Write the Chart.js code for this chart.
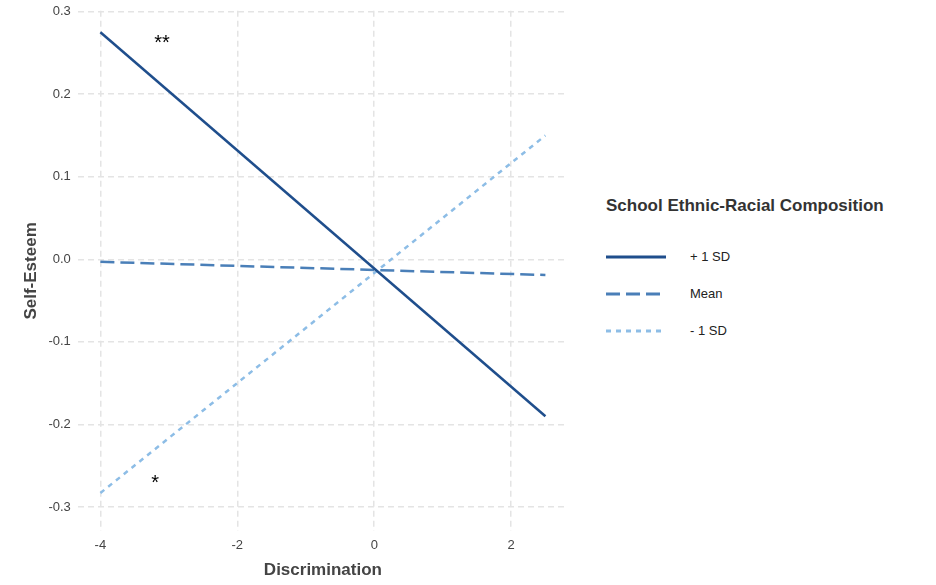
<!DOCTYPE html>
<html>
<head>
<meta charset="utf-8">
<script src="https://cdn.jsdelivr.net/npm/chart.js@4"></script>
<style>
  body { margin: 0; background: #fff; font-family: "Liberation Sans", Arial, sans-serif; }
  #wrap { position: relative; width: 936px; height: 585px; }
  #chartBox { position: absolute; left: 0; top: 0; width: 568px; height: 585px; }
  #legend { position: absolute; left: 606px; top: 196px; color: #222; }
  #legend h3 { margin: 0 0 22px 0; font-size: 17px; font-weight: bold; color: #333; }
  .item { display: flex; align-items: center; height: 37px; font-size: 13px; }
  .item svg { margin-right: 24px; }
</style>
</head>
<body>
<div id="wrap">
  <div id="chartBox"><canvas id="c"></canvas></div>
  <div id="legend">
    <h3>School Ethnic-Racial Composition</h3>
    <div class="item"><svg width="60" height="6"><line x1="0" y1="3" x2="60" y2="3" stroke="#1f4e8c" stroke-width="3"/></svg>+ 1 SD</div>
    <div class="item"><svg width="60" height="6"><line x1="0" y1="3" x2="60" y2="3" stroke="#4a7fb8" stroke-width="3" stroke-dasharray="14,6"/></svg>Mean</div>
    <div class="item"><svg width="60" height="6"><line x1="0" y1="3" x2="60" y2="3" stroke="#8dbde6" stroke-width="3" stroke-dasharray="5,5"/></svg>- 1 SD</div>
  </div>
</div>
<script>
// Simple slopes: self-esteem vs discrimination
const xs = [-4, 2.5];
const plusSD = [0.275, -0.19];
const meanSD = [-0.003, -0.019];
const minusSD = [-0.283, 0.15];
const xTicks = [-4, -2, 0, 2];
const yTicks = [-0.3, -0.2, -0.1, 0.0, 0.1, 0.2, 0.3];
const stars = [
  { x: -3.1, y: 0.262, text: '**' },
  { x: -3.2, y: -0.272, text: '*' }
];

const toPts = ys => xs.map((x, i) => ({ x, y: ys[i] }));

const starPlugin = {
  id: 'stars',
  afterDatasetsDraw(chart) {
    const { ctx, scales } = chart;
    ctx.save();
    ctx.fillStyle = '#000';
    ctx.font = '20px "Liberation Sans", Arial';
    ctx.textAlign = 'center';
    ctx.textBaseline = 'middle';
    stars.forEach(s => ctx.fillText(s.text, scales.x.getPixelForValue(s.x), scales.y.getPixelForValue(s.y)));
    ctx.restore();
  }
};

new Chart(document.getElementById('c'), {
  type: 'scatter',
  data: {
    datasets: [
      { data: toPts(plusSD), showLine: true, borderColor: '#1f4e8c', borderWidth: 2.5, pointRadius: 0 },
      { data: toPts(meanSD), showLine: true, borderColor: '#4a7fb8', borderWidth: 2.5, borderDash: [14, 6], pointRadius: 0 },
      { data: toPts(minusSD), showLine: true, borderColor: '#8dbde6', borderWidth: 2.5, borderDash: [5, 5], pointRadius: 0 }
    ]
  },
  options: {
    responsive: true,
    maintainAspectRatio: false,
    animation: false,
    layout: { padding: { top: 0, left: 17, right: 0, bottom: 0 } },
    plugins: { legend: { display: false }, tooltip: { enabled: false } },
    scales: {
      x: {
        min: -4.33, max: 2.83,
        afterBuildTicks: axis => { axis.ticks = xTicks.map(v => ({ value: v })); },
        ticks: { color: '#444', font: { size: 13 } },
        grid: { color: '#e4e4e4', lineWidth: 1.5, tickLength: 4, tickColor: '#fff' },
        border: { display: false, dash: [6, 4] },
        title: { display: true, text: 'Discrimination', color: '#444', font: { size: 17, weight: 'bold' }, padding: { top: 4 } }
      },
      y: {
        min: -0.329, max: 0.301,
        afterBuildTicks: axis => { axis.ticks = yTicks.map(v => ({ value: v })); },
        ticks: { color: '#444', font: { size: 13 }, callback: v => v.toFixed(1) },
        grid: { color: '#e4e4e4', lineWidth: 1.5, tickLength: 4, tickColor: '#fff' },
        border: { display: false, dash: [6, 4] },
        title: { display: true, text: 'Self-Esteem', color: '#444', font: { size: 17, weight: 'bold' } }
      }
    }
  },
  plugins: [starPlugin]
});
</script>
</body>
</html>
